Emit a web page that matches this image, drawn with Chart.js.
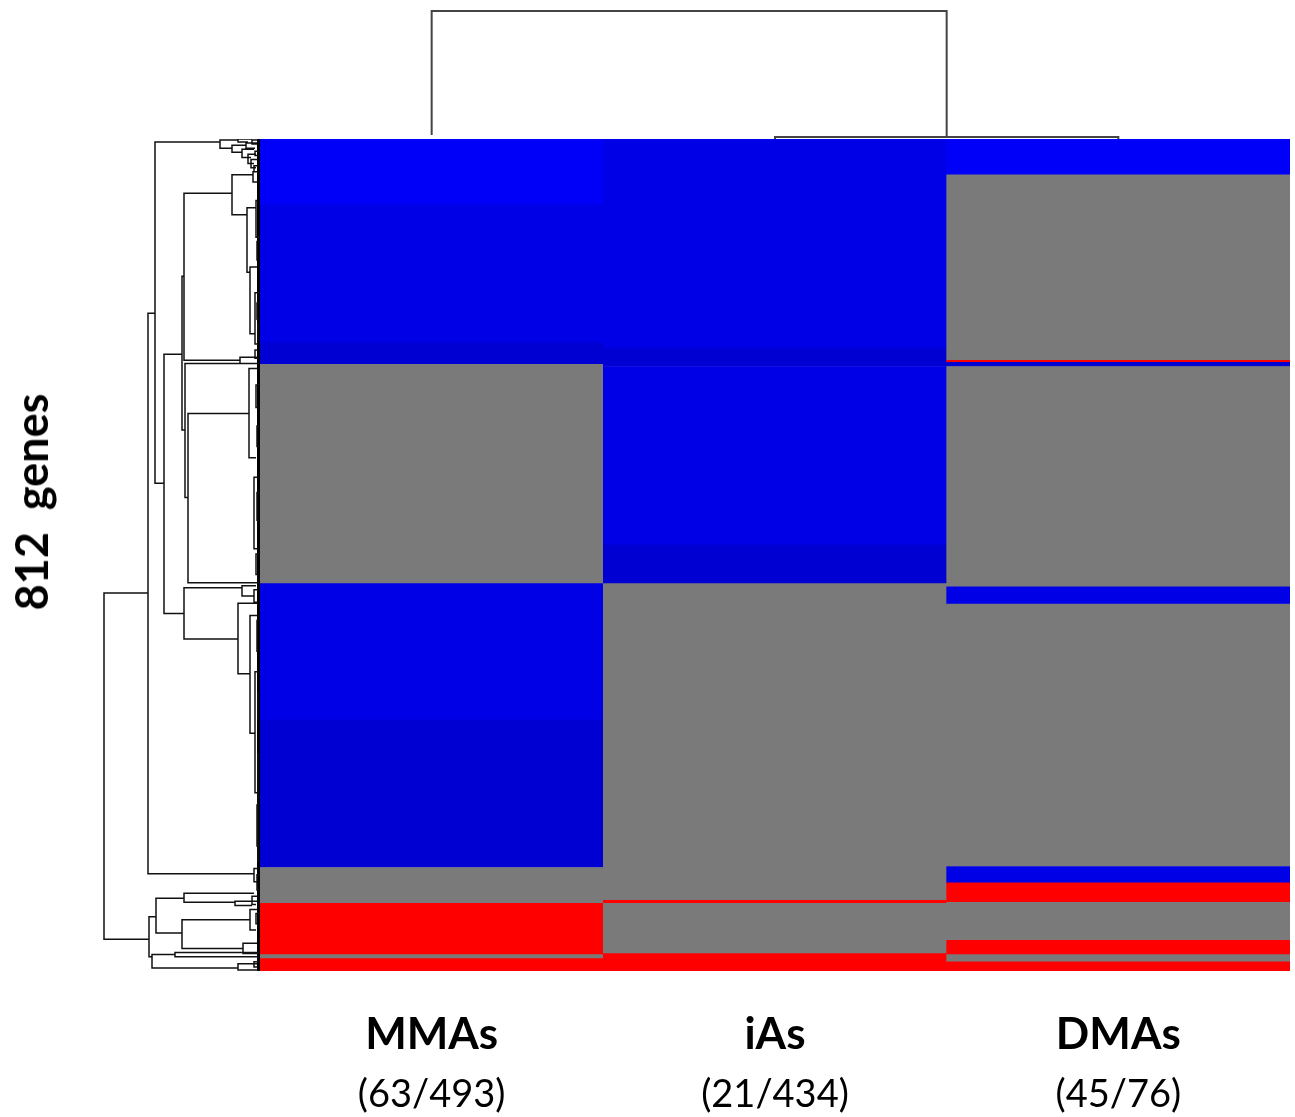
<!DOCTYPE html>
<html>
<head>
<meta charset="utf-8">
<title>812 genes heatmap</title>
<script src="https://cdn.jsdelivr.net/npm/chart.js@4.4.1/dist/chart.umd.min.js"></script>
<style>
  html, body { margin: 0; padding: 0; background: #fff; }
  #page { position: relative; width: 1295px; height: 1117px; overflow: hidden; }
  .box { position: absolute; }
  #geneLabel {
    position: absolute; left: 31px; top: 502px;
    transform: translate(-50%, -50%) rotate(-90deg);
    font: bold 45px Lato, sans-serif; white-space: pre; color: #000;
  }
</style>
</head>
<body>
<div id="page">
  <div class="box" style="left:260px;top:0;width:1030px;height:139px"><canvas id="topTree"></canvas></div>
  <div class="box" style="left:0;top:139px;width:260px;height:832px"><canvas id="sideTree"></canvas></div>
  <div class="box" style="left:260px;top:139px;width:1030px;height:978px"><canvas id="heat"></canvas></div>
  <div id="geneLabel">812  genes</div>
</div>
<script>
// --- data ---
const geneCount = 812;
const columns = ['MMAs', 'iAs', 'DMAs'];
const counts = ['(63/493)', '(21/434)', '(45/76)'];

// row breaks (gene index, top = 0) and the state of each band between two breaks
const mmasBreaks = [0, 64, 199, 220, 434, 567, 711, 746, 796, 800, 812];
const mmasStates = ['b1', 'b2', 'b3', 'n', 'b2', 'b3', 'n', 'u', 'n', 'u'];
const iasBreaks = [0, 204, 222, 396, 434, 743, 746, 795, 812];
const iasStates = ['b2', 'b3', 'b2', 'b3', 'n', 'u', 'n', 'u'];
const dmasBreaks = [0, 35, 216, 218, 222, 437, 454, 710, 726, 745, 782, 796, 803, 812];
const dmasStates = ['b1', 'n', 'u', 'b3', 'n', 'b2', 'n', 'b2', 'u', 'n', 'u', 'n', 'u'];

const stateColors = { b1: '#0000f8', b2: '#0000e6', b3: '#0000d2', n: '#7a7a7a', u: '#ff0000' };

// column dendrogram: [height, left pos, left height, right pos, right height]
const topNodes = [
  [1.0, 0.5, 0.031, 2.0, 0.016],
  [0.016, 1.5, 0, 2.5, 0]
];

// gene dendrogram: [height, top row, top child height, bottom row, bottom child height]
const sideNodes = [
  [156, 443, 112, 781, 111],
  [112, 170, 105, 717, 6],
  [105, 3, 40, 336, 96],
  [40, 1, 22, 9, 28],
  [28, 6, 14, 13, 18],
  [22, 0, 8, 3, 12],
  [18, 10, 6, 18, 9],
  [14, 4, 3, 9, 5],
  [12, 15, 4, 24, 6],
  [9, 20, 2, 28, 4],
  [6, 26, 2, 32, 3],
  [8, 1, 2, 5, 3],
  [5, 12, 1, 16, 2],
  [96, 210, 78, 463, 76],
  [78, 134, 76, 284, 75],
  [76, 53, 28, 216, 20],
  [28, 35, 7, 74, 13],
  [13, 67, 4, 130, 10],
  [10, 125, 3, 190, 5],
  [7, 32, 2, 42, 3],
  [5, 150, 1, 200, 2],
  [4, 60, 2, 96, 1],
  [3, 100, 1, 118, 2],
  [3, 160, 1, 176, 1],
  [2, 180, 1, 196, 1],
  [20, 213, 3, 219, 5],
  [5, 206, 2, 214, 1],
  [75, 219, 1, 350, 72],
  [72, 268, 11, 433, 1],
  [11, 224, 3, 311, 4],
  [4, 240, 1, 262, 2],
  [3, 280, 1, 300, 1],
  [6, 330, 2, 400, 3],
  [4, 405, 1, 425, 2],
  [3, 345, 1, 372, 1],
  [76, 438, 18, 488, 22],
  [18, 436, 4, 446, 6],
  [6, 440, 2, 452, 3],
  [22, 453, 2, 522, 10],
  [10, 465, 3, 580, 5],
  [3, 470, 1, 500, 2],
  [5, 520, 2, 638, 2],
  [2, 540, 1, 566, 1],
  [2, 600, 1, 705, 1],
  [3, 650, 1, 690, 1],
  [6, 712, 2, 725, 3],
  [3, 718, 1, 733, 1],
  [111, 759, 104, 798, 108],
  [104, 741, 76, 775, 78],
  [76, 736, 6, 745, 25],
  [25, 744, 3, 748, 8],
  [8, 739, 2, 747, 4],
  [78, 762, 10, 790, 17],
  [10, 752, 3, 772, 4],
  [4, 756, 1, 766, 2],
  [17, 785, 3, 795, 2],
  [108, 796, 85, 809, 22],
  [85, 794, 1, 798, 3],
  [22, 805, 3, 811, 2],
  [6, 803, 1, 808, 2]
];
const leafDepth = 1.5;

// --- build ---
const cells = [];
const cellColors = [];
[[mmasBreaks, mmasStates], [iasBreaks, iasStates], [dmasBreaks, dmasStates]].forEach(([breaks, states], c) => {
  states.forEach((s, i) => {
    cells.push({ x: columns[c], y: [breaks[i], breaks[i + 1]] });
    cellColors.push(stateColors[s]);
  });
});

// each node drawn as a bracket; a null point breaks the line between brackets
function bracketPoints(nodes, horizontal) {
  const pts = [];
  nodes.forEach(([h, a, ha, b, hb]) => {
    const seq = [[ha, a], [h, a], [h, b], [hb, b]];
    seq.forEach(([hh, p]) => pts.push(horizontal ? { x: hh, y: p } : { x: p, y: hh }));
    pts.push(horizontal ? { x: h, y: null } : { x: null, y: null });
  });
  return pts;
}

const noPlugins = { legend: { display: false }, tooltip: { enabled: false } };

new Chart(document.getElementById('topTree'), {
  type: 'scatter',
  data: {
    datasets: [{
      data: bracketPoints(topNodes, false),
      showLine: true, spanGaps: false, pointRadius: 0,
      borderColor: '#444', borderWidth: 2, clip: false
    }]
  },
  options: {
    responsive: true, maintainAspectRatio: false, animation: false,
    layout: { padding: 0 },
    plugins: noPlugins,
    scales: {
      x: { type: 'linear', min: 0, max: columns.length, display: false },
      y: { type: 'linear', min: 0, max: 1.086, display: false }
    }
  }
});

new Chart(document.getElementById('sideTree'), {
  type: 'scatter',
  data: {
    datasets: [{
      data: bracketPoints(sideNodes, true),
      showLine: true, spanGaps: false, pointRadius: 0,
      borderColor: '#111', borderWidth: 1.5, clip: false
    }, {
      data: [{ x: leafDepth, y: 0 }, { x: leafDepth, y: geneCount }],
      showLine: true, pointRadius: 0,
      borderColor: '#000', borderWidth: 3, clip: false
    }]
  },
  options: {
    responsive: true, maintainAspectRatio: false, animation: false,
    layout: { padding: 0 },
    plugins: noPlugins,
    scales: {
      x: { type: 'linear', min: 0, max: 260, reverse: true, display: false },
      y: { type: 'linear', min: 0, max: geneCount, reverse: true, display: false }
    }
  }
});

new Chart(document.getElementById('heat'), {
  type: 'bar',
  data: {
    datasets: [{
      data: cells,
      backgroundColor: cellColors,
      borderWidth: 0,
      barPercentage: 1,
      categoryPercentage: 1,
      grouped: false
    }]
  },
  options: {
    responsive: true, maintainAspectRatio: false, animation: false,
    layout: { padding: 0 },
    plugins: noPlugins,
    scales: {
      x: {
        type: 'category', labels: columns, position: 'bottom', weight: 0,
        grid: { display: false, drawTicks: false }, border: { display: false },
        ticks: { color: '#000', font: { family: 'Lato', size: 44, weight: 'bold' }, padding: 37, maxRotation: 0, autoSkip: false },
        afterFit: s => { s.height = 90; }
      },
      counts: {
        type: 'category', labels: counts, position: 'bottom', weight: 1,
        grid: { display: false, drawTicks: false }, border: { display: false },
        ticks: { color: '#000', font: { family: 'Lato', size: 38 }, padding: 11, maxRotation: 0, autoSkip: false },
        afterFit: s => { s.height = 56; }
      },
      y: { type: 'linear', min: 0, max: geneCount, reverse: true, display: false }
    }
  }
});
</script>
</body>
</html>
